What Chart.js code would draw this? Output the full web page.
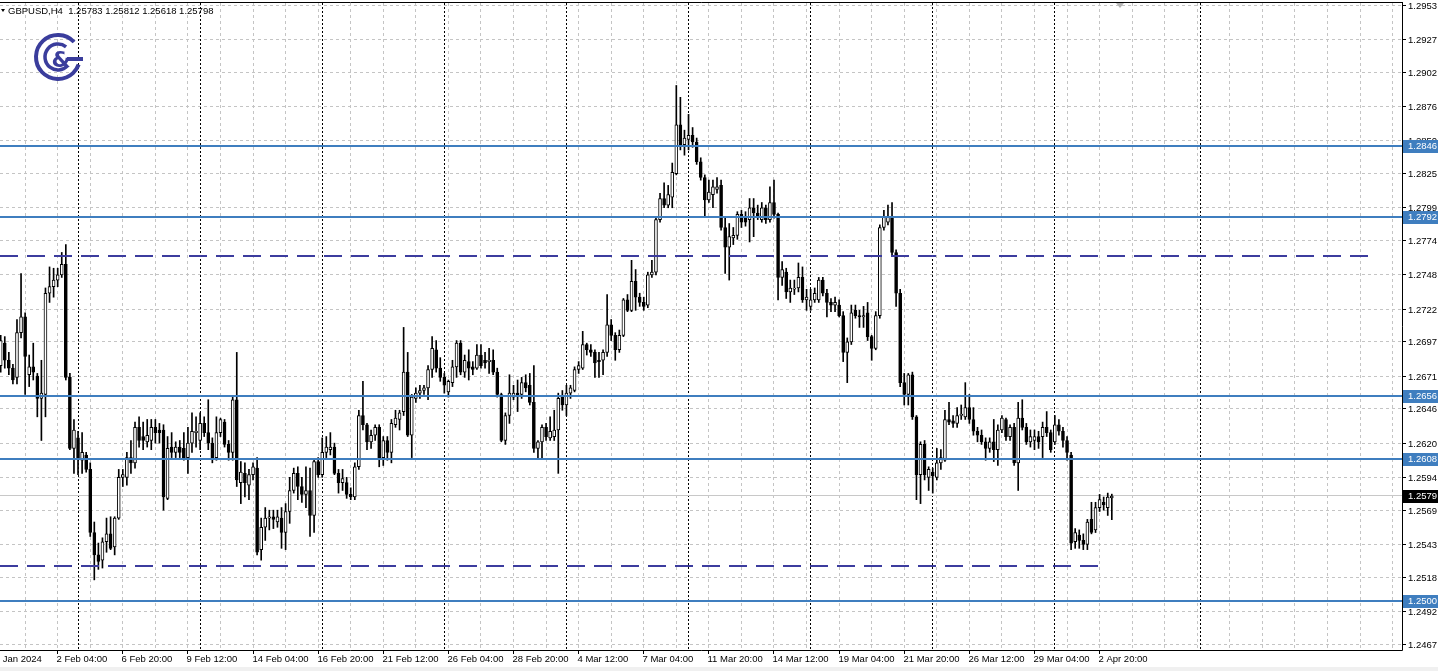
<!DOCTYPE html>
<html>
<head>
<meta charset="utf-8">
<script src="https://cdn.jsdelivr.net/npm/chart.js@4.4.1/dist/chart.umd.min.js"></script>
<style>
html, body { margin: 0; padding: 0; background: #fff; overflow: hidden; }
canvas { display: block; }
</style>
</head>
<body>
<canvas id="price-chart" width="1438" height="671"></canvas>
<script>
var symbol = 'GBPUSD,H4';

// H4 bars, 30 Jan 20:00 .. 3 Apr 08:00
var opens = [
    1.2679, 1.2696, 1.2683, 1.2677, 1.2670, 1.2704, 1.2716, 1.2672, 1.2678, 1.2671,
    1.2654, 1.2657, 1.2734, 1.2739, 1.2744, 1.2748, 1.2756, 1.2670, 1.2616, 1.2624,
    1.2607, 1.2611, 1.2600, 1.2552, 1.2535, 1.2531, 1.2545, 1.2551, 1.2541, 1.2563,
    1.2594, 1.2594, 1.2609, 1.2605, 1.2632, 1.2625, 1.2621, 1.2622, 1.2632, 1.2630,
    1.2630, 1.2578, 1.2617, 1.2613, 1.2617, 1.2616, 1.2609, 1.2620, 1.2628, 1.2622,
    1.2635, 1.2628, 1.2620, 1.2609, 1.2628, 1.2636, 1.2619, 1.2613, 1.2653, 1.2590,
    1.2597, 1.2588, 1.2596, 1.2601, 1.2539, 1.2556, 1.2563, 1.2564, 1.2560, 1.2563,
    1.2552, 1.2568, 1.2584, 1.2597, 1.2587, 1.2581, 1.2584, 1.2565, 1.2606, 1.2596,
    1.2613, 1.2615, 1.2617, 1.2597, 1.2590, 1.2590, 1.2581, 1.2579, 1.2602, 1.2641,
    1.2634, 1.2621, 1.2626, 1.2632, 1.2609, 1.2622, 1.2613, 1.2634, 1.2638, 1.2644,
    1.2674, 1.2626, 1.2654, 1.2658, 1.2660, 1.2662, 1.2676, 1.2691, 1.2677, 1.2670,
    1.2659, 1.2666, 1.2678, 1.2696, 1.2674, 1.2682, 1.2678, 1.2677, 1.2687, 1.2683,
    1.2682, 1.2683, 1.2674, 1.2657, 1.2622, 1.2641, 1.2655, 1.2658, 1.2657, 1.2666,
    1.2664, 1.2651, 1.2616, 1.2621, 1.2632, 1.2624, 1.2625, 1.2630, 1.2655, 1.2649,
    1.2658, 1.2660, 1.2676, 1.2677, 1.2695, 1.2691, 1.2689, 1.2683, 1.2683, 1.2689,
    1.2710, 1.2702, 1.2691, 1.2702, 1.2729, 1.2721, 1.2743, 1.2731, 1.2727, 1.2725,
    1.2748, 1.2750, 1.2790, 1.2806, 1.2801, 1.2807, 1.2825, 1.2862, 1.2847, 1.2851,
    1.2854, 1.2849, 1.2834, 1.2822, 1.2805, 1.2809, 1.2813, 1.2816, 1.2784, 1.2769,
    1.2776, 1.2778, 1.2794, 1.2791, 1.2790, 1.2799, 1.2795, 1.2790, 1.2799, 1.2790,
    1.2803, 1.2794, 1.2746, 1.2750, 1.2735, 1.2737, 1.2738, 1.2746, 1.2729, 1.2724,
    1.2729, 1.2729, 1.2744, 1.2734, 1.2727, 1.2725, 1.2725, 1.2717, 1.2689, 1.2697,
    1.2721, 1.2717, 1.2716, 1.2719, 1.2701, 1.2692, 1.2717, 1.2784, 1.2788, 1.2792,
    1.2765, 1.2734, 1.2666, 1.2657, 1.2672, 1.2640, 1.2596, 1.2619, 1.2594, 1.2598,
    1.2594, 1.2605, 1.2607, 1.2638, 1.2637, 1.2635, 1.2641, 1.2640, 1.2647, 1.2638,
    1.2629, 1.2626, 1.2621, 1.2616, 1.2621, 1.2615, 1.2630, 1.2638, 1.2625, 1.2632,
    1.2605, 1.2639, 1.2632, 1.2621, 1.2622, 1.2625, 1.2625, 1.2632, 1.2628, 1.2621,
    1.2634, 1.2629, 1.2622, 1.2611, 1.2545, 1.2550, 1.2546, 1.2543, 1.2562, 1.2554,
    1.2571, 1.2575, 1.2571, 1.25783
];
var highs = [
    1.2702, 1.2701, 1.2689, 1.2680, 1.2714, 1.2749, 1.2719, 1.2687, 1.2696, 1.2673,
    1.2683, 1.2738, 1.2754, 1.2753, 1.2753, 1.2765, 1.2771, 1.2673, 1.2638, 1.2629,
    1.2628, 1.2613, 1.2605, 1.2560, 1.2544, 1.2548, 1.2563, 1.2564, 1.2564, 1.2600,
    1.2600, 1.2613, 1.2622, 1.2636, 1.2640, 1.2636, 1.2638, 1.2638, 1.2638, 1.2635,
    1.2634, 1.2625, 1.2628, 1.2621, 1.2622, 1.2628, 1.2632, 1.2643, 1.2640, 1.2643,
    1.2640, 1.2653, 1.2624, 1.2640, 1.2639, 1.2638, 1.2622, 1.2655, 1.2689, 1.2606,
    1.2605, 1.2600, 1.2605, 1.2609, 1.2563, 1.2571, 1.2569, 1.2569, 1.2569, 1.2571,
    1.2574, 1.2594, 1.2601, 1.2602, 1.2594, 1.2602, 1.2601, 1.2607, 1.2609, 1.2624,
    1.2625, 1.2628, 1.2620, 1.2600, 1.2600, 1.2594, 1.2586, 1.2605, 1.2645, 1.2667,
    1.2635, 1.2630, 1.2634, 1.2634, 1.2625, 1.2625, 1.2638, 1.2645, 1.2645, 1.2708,
    1.2689, 1.2657, 1.2662, 1.2664, 1.2664, 1.2679, 1.2701, 1.2698, 1.2685, 1.2673,
    1.2668, 1.2683, 1.2698, 1.2698, 1.2687, 1.2691, 1.2682, 1.2695, 1.2695, 1.2689,
    1.2692, 1.2691, 1.2677, 1.2658, 1.2643, 1.2672, 1.2664, 1.2668, 1.2670, 1.2672,
    1.2673, 1.2679, 1.2622, 1.2634, 1.2635, 1.2640, 1.2645, 1.2658, 1.2660, 1.2664,
    1.2664, 1.2678, 1.2682, 1.2705, 1.2696, 1.2695, 1.2691, 1.2689, 1.2691, 1.2733,
    1.2714, 1.2704, 1.2706, 1.2730, 1.2733, 1.2759, 1.2752, 1.2734, 1.2731, 1.2750,
    1.2759, 1.2791, 1.2810, 1.2818, 1.2816, 1.2833, 1.2892, 1.2883, 1.2858, 1.2870,
    1.2860, 1.2852, 1.2837, 1.2824, 1.2820, 1.2820, 1.2822, 1.2820, 1.2792, 1.2787,
    1.2784, 1.2796, 1.2797, 1.2796, 1.2806, 1.2806, 1.2801, 1.2803, 1.2801, 1.2815,
    1.2820, 1.2795, 1.2758, 1.2753, 1.2744, 1.2744, 1.2757, 1.2754, 1.2737, 1.2737,
    1.2738, 1.2746, 1.2746, 1.2737, 1.2730, 1.2731, 1.2729, 1.2720, 1.2700, 1.2725,
    1.2725, 1.2721, 1.2724, 1.2727, 1.2702, 1.2720, 1.2786, 1.2797, 1.2801, 1.2803,
    1.2767, 1.2737, 1.2673, 1.2673, 1.2674, 1.2641, 1.2621, 1.2622, 1.2602, 1.2601,
    1.2616, 1.2615, 1.2645, 1.2651, 1.2641, 1.2647, 1.2649, 1.2666, 1.2657, 1.2647,
    1.2632, 1.2630, 1.2624, 1.2624, 1.2638, 1.2634, 1.2641, 1.2639, 1.2634, 1.2635,
    1.2651, 1.2653, 1.2635, 1.2630, 1.2630, 1.2629, 1.2636, 1.2644, 1.2630, 1.2641,
    1.2638, 1.2632, 1.2625, 1.2613, 1.2555, 1.2554, 1.2551, 1.2562, 1.2575, 1.2575,
    1.2581, 1.2579, 1.2582, 1.25812
];
var lows = [
    1.2674, 1.2677, 1.2672, 1.2665, 1.2665, 1.2700, 1.2657, 1.2663, 1.2668, 1.2640,
    1.2622, 1.2640, 1.2727, 1.2731, 1.2739, 1.2746, 1.2668, 1.2615, 1.2597, 1.2596,
    1.2597, 1.2598, 1.2549, 1.2516, 1.2524, 1.2525, 1.2537, 1.2539, 1.2535, 1.2562,
    1.2587, 1.2588, 1.2597, 1.2601, 1.2617, 1.2615, 1.2617, 1.2615, 1.2620, 1.2620,
    1.2569, 1.2577, 1.2609, 1.2609, 1.2609, 1.2607, 1.2597, 1.2613, 1.2617, 1.2615,
    1.2625, 1.2615, 1.2605, 1.2607, 1.2625, 1.2617, 1.2607, 1.2607, 1.2587, 1.2574,
    1.2579, 1.2577, 1.2592, 1.2535, 1.2531, 1.2546, 1.2554, 1.2555, 1.2556, 1.2540,
    1.2539, 1.2559, 1.2582, 1.2577, 1.2575, 1.2571, 1.2549, 1.2552, 1.2594, 1.2594,
    1.2609, 1.2611, 1.2596, 1.2582, 1.2584, 1.2578, 1.2577, 1.2577, 1.2600, 1.2630,
    1.2615, 1.2616, 1.2622, 1.2602, 1.2603, 1.2607, 1.2605, 1.2632, 1.2630, 1.2641,
    1.2625, 1.2609, 1.2651, 1.2654, 1.2657, 1.2653, 1.2670, 1.2674, 1.2667, 1.2658,
    1.2655, 1.2663, 1.2670, 1.2672, 1.2670, 1.2668, 1.2672, 1.2676, 1.2677, 1.2677,
    1.2673, 1.2672, 1.2655, 1.2621, 1.2619, 1.2635, 1.2653, 1.2644, 1.2654, 1.2659,
    1.2649, 1.2613, 1.2609, 1.2609, 1.2622, 1.2622, 1.2622, 1.2597, 1.2645, 1.2641,
    1.2654, 1.2659, 1.2673, 1.2676, 1.2687, 1.2686, 1.2670, 1.2670, 1.2672, 1.2686,
    1.2698, 1.2683, 1.2689, 1.2701, 1.2720, 1.2720, 1.2721, 1.2724, 1.2721, 1.2723,
    1.2746, 1.2748, 1.2788, 1.2799, 1.2799, 1.2799, 1.2824, 1.2843, 1.2839, 1.2843,
    1.2845, 1.2832, 1.2820, 1.2792, 1.2803, 1.2799, 1.2810, 1.2782, 1.2749, 1.2744,
    1.2771, 1.2775, 1.2784, 1.2785, 1.2773, 1.2777, 1.2790, 1.2788, 1.2787, 1.2788,
    1.2791, 1.2729, 1.2740, 1.2730, 1.2727, 1.2733, 1.2735, 1.2727, 1.2721, 1.2721,
    1.2727, 1.2727, 1.2732, 1.2716, 1.2720, 1.2720, 1.2716, 1.2682, 1.2666, 1.2695,
    1.2715, 1.2708, 1.2708, 1.2698, 1.2683, 1.2691, 1.2715, 1.2782, 1.2786, 1.2763,
    1.2724, 1.2663, 1.2649, 1.2649, 1.2638, 1.2577, 1.2574, 1.2592, 1.2584, 1.2582,
    1.2592, 1.2600, 1.2606, 1.2634, 1.2632, 1.2632, 1.2638, 1.2638, 1.2635, 1.2626,
    1.2621, 1.2619, 1.2607, 1.2613, 1.2606, 1.2603, 1.2628, 1.2622, 1.2622, 1.2603,
    1.2584, 1.2630, 1.2619, 1.2617, 1.2615, 1.2616, 1.2609, 1.2625, 1.2613, 1.2619,
    1.2626, 1.2617, 1.2607, 1.2539, 1.2540, 1.2540, 1.2539, 1.2539, 1.2551, 1.2552,
    1.2568, 1.2569, 1.2565, 1.25618
];
var closes = [
    1.2698, 1.2683, 1.2677, 1.2668, 1.2704, 1.2716, 1.2686, 1.2678, 1.2674, 1.2654,
    1.2658, 1.2734, 1.2739, 1.2744, 1.2748, 1.2756, 1.2670, 1.2616, 1.2630, 1.2609,
    1.2613, 1.2600, 1.2552, 1.2535, 1.2530, 1.2545, 1.2551, 1.2540, 1.2563, 1.2594,
    1.2596, 1.2609, 1.2605, 1.2632, 1.2622, 1.2622, 1.2626, 1.2632, 1.2628, 1.2628,
    1.2579, 1.2616, 1.2613, 1.2617, 1.2613, 1.2609, 1.2620, 1.2629, 1.2629, 1.2635,
    1.2628, 1.2620, 1.2609, 1.2628, 1.2638, 1.2619, 1.2613, 1.2653, 1.2592, 1.2598,
    1.2590, 1.2596, 1.2602, 1.2537, 1.2556, 1.2563, 1.2564, 1.2562, 1.2564, 1.2552,
    1.2568, 1.2584, 1.2597, 1.2587, 1.2581, 1.2584, 1.2565, 1.2606, 1.2596, 1.2613,
    1.2617, 1.2617, 1.2597, 1.2590, 1.2593, 1.2581, 1.2579, 1.2602, 1.2641, 1.2634,
    1.2621, 1.2626, 1.2632, 1.2609, 1.2622, 1.2613, 1.2635, 1.2639, 1.2643, 1.2674,
    1.2626, 1.2655, 1.2658, 1.2660, 1.2662, 1.2676, 1.2692, 1.2677, 1.2670, 1.2664,
    1.2667, 1.2678, 1.2696, 1.2674, 1.2683, 1.2677, 1.2676, 1.2687, 1.2679, 1.2681,
    1.2683, 1.2674, 1.2657, 1.2622, 1.2641, 1.2658, 1.2658, 1.2656, 1.2666, 1.2662,
    1.2651, 1.2616, 1.2621, 1.2632, 1.2625, 1.2629, 1.2630, 1.2654, 1.2649, 1.2658,
    1.2662, 1.2676, 1.2679, 1.2695, 1.2691, 1.2689, 1.2681, 1.2682, 1.2689, 1.2710,
    1.2702, 1.2691, 1.2702, 1.2729, 1.2721, 1.2743, 1.2731, 1.2727, 1.2724, 1.2748,
    1.2750, 1.2790, 1.2806, 1.2801, 1.2809, 1.2826, 1.2862, 1.2847, 1.2852, 1.2854,
    1.2849, 1.2834, 1.2822, 1.2805, 1.2811, 1.2815, 1.2815, 1.2784, 1.2769, 1.2777,
    1.2778, 1.2794, 1.2788, 1.2788, 1.2799, 1.2795, 1.2792, 1.2799, 1.2790, 1.2803,
    1.2794, 1.2746, 1.2752, 1.2735, 1.2738, 1.2738, 1.2746, 1.2729, 1.2731, 1.2729,
    1.2734, 1.2744, 1.2734, 1.2727, 1.2725, 1.2727, 1.2717, 1.2689, 1.2697, 1.2719,
    1.2717, 1.2716, 1.2717, 1.2701, 1.2692, 1.2717, 1.2784, 1.2792, 1.2792, 1.2765,
    1.2734, 1.2666, 1.2657, 1.2672, 1.2640, 1.2596, 1.2619, 1.2596, 1.2600, 1.2595,
    1.2605, 1.2609, 1.2638, 1.2636, 1.2635, 1.2641, 1.2642, 1.2647, 1.2638, 1.2629,
    1.2626, 1.2621, 1.2616, 1.2621, 1.2615, 1.2630, 1.2639, 1.2625, 1.2632, 1.2605,
    1.2639, 1.2632, 1.2621, 1.2625, 1.2625, 1.2621, 1.2632, 1.2628, 1.2615, 1.2634,
    1.2629, 1.2622, 1.2613, 1.2544, 1.2552, 1.2546, 1.2543, 1.2560, 1.2552, 1.2571,
    1.2577, 1.2573, 1.2579, 1.25798
];

var priceTicks = [1.2953, 1.2927, 1.2902, 1.2876, 1.2850, 1.2825, 1.2799, 1.2774, 1.2748, 1.2722,
    1.2697, 1.2671, 1.2646, 1.2620, 1.2594, 1.2569, 1.2543, 1.2518, 1.2492, 1.2467];

var timeLabels = ['31 Jan 2024', '2 Feb 04:00', '6 Feb 20:00', '9 Feb 12:00', '14 Feb 04:00',
    '16 Feb 20:00', '21 Feb 12:00', '26 Feb 04:00', '28 Feb 20:00', '4 Mar 12:00', '7 Mar 04:00',
    '11 Mar 20:00', '14 Mar 12:00', '19 Mar 04:00', '21 Mar 20:00', '26 Mar 12:00', '29 Mar 04:00',
    '2 Apr 20:00'];
var timeLabelBars = [-2.4, 14, 30, 46, 62, 78, 94, 110, 126, 142, 158, 174, 190, 206, 222, 238, 254, 270];

var weekBars = [19, 49, 79, 109, 139, 169, 199, 229, 259, 294.7];

var levels = [1.2846, 1.2792, 1.2656, 1.2608, 1.2500];
var rangeLevels = [1.27624, 1.25266];
var rangeEnds = [336.4, 270.8];

var lastPrice = closes[closes.length - 1];

function xPix(chart, v) { return chart.scales.x.getPixelForValue(v); }
function yPix(chart, v) { return chart.scales.y.getPixelForValue(v); }
function crisp(v) { return Math.floor(v) + 0.5; }
// the terminal cuts the price to 4 digits on its scale
function cut4(v) { return (Math.floor(v * 10000 + 1e-6) / 10000).toFixed(4); }

function axisBox(ctx, y, fill, text) {
    ctx.fillStyle = fill;
    ctx.fillRect(1403, Math.round(y) - 6, 35, 13);
    ctx.fillStyle = '#fff';
    ctx.fillText(text, 1408, Math.round(y) + 0.5);
}

var mtStyle = {
    id: 'mtStyle',
    beforeDatasetsDraw: function (chart) {
        var ctx = chart.ctx, a = chart.chartArea;
        ctx.save();
        ctx.lineWidth = 1;

        // grid
        ctx.strokeStyle = '#c4c4c4';
        ctx.setLineDash([3, 3]);
        ctx.beginPath();
        priceTicks.forEach(function (v) {
            var y = crisp(yPix(chart, v));
            ctx.moveTo(a.left, y);
            ctx.lineTo(a.right, y);
        });
        for (var b = 6; xPix(chart, b) < a.right; b += 8) {
            var x = crisp(xPix(chart, b));
            ctx.moveTo(x, a.top);
            ctx.lineTo(x, a.bottom);
        }
        ctx.stroke();

        // week separators
        ctx.strokeStyle = '#000';
        ctx.setLineDash([2, 2]);
        ctx.beginPath();
        weekBars.forEach(function (b) {
            var x = crisp(xPix(chart, b));
            ctx.moveTo(x, a.top);
            ctx.lineTo(x, a.bottom);
        });
        ctx.stroke();

        // bid line
        ctx.setLineDash([]);
        ctx.strokeStyle = '#c8c8c8';
        ctx.beginPath();
        var yb = crisp(yPix(chart, lastPrice));
        ctx.moveTo(a.left, yb);
        ctx.lineTo(a.right, yb);
        ctx.stroke();
        ctx.restore();
    },
    afterDatasetsDraw: function (chart) {
        var ctx = chart.ctx, a = chart.chartArea;
        ctx.save();
        ctx.lineWidth = 2;
        ctx.strokeStyle = '#3f7ebf';
        levels.forEach(function (v) {
            var y = Math.round(yPix(chart, v));
            ctx.beginPath();
            ctx.moveTo(a.left, y);
            ctx.lineTo(a.right, y);
            ctx.stroke();
        });
        ctx.strokeStyle = '#3c3c9e';
        ctx.setLineDash([18, 9]);
        rangeLevels.forEach(function (v, k) {
            var y = Math.round(yPix(chart, v));
            ctx.beginPath();
            ctx.moveTo(a.left, y);
            ctx.lineTo(xPix(chart, rangeEnds[k]), y);
            ctx.stroke();
        });
        ctx.restore();
    },
    afterDraw: function (chart) {
        var ctx = chart.ctx, a = chart.chartArea;
        ctx.save();
        ctx.font = '9.5px "Liberation Sans", Arial, sans-serif';
        ctx.textBaseline = 'middle';
        ctx.textAlign = 'left';

        // frame
        ctx.strokeStyle = '#000';
        ctx.lineWidth = 1;
        ctx.beginPath();
        ctx.moveTo(a.left, a.top - 0.5);
        ctx.lineTo(a.right + 0.5, a.top - 0.5);
        ctx.moveTo(a.right + 0.5, a.top - 1);
        ctx.lineTo(a.right + 0.5, a.bottom + 0.5);
        ctx.moveTo(a.left, a.bottom + 0.5);
        ctx.lineTo(a.right + 0.5, a.bottom + 0.5);
        ctx.stroke();

        // price scale
        ctx.fillStyle = '#000';
        ctx.beginPath();
        priceTicks.forEach(function (v) {
            var y = crisp(yPix(chart, v));
            ctx.moveTo(a.right, y);
            ctx.lineTo(a.right + 4, y);
            ctx.fillText(v.toFixed(4), 1408, y + 1);
        });
        ctx.stroke();
        levels.forEach(function (v) {
            axisBox(ctx, yPix(chart, v), '#3f7ebf', v.toFixed(4));
        });
        axisBox(ctx, yPix(chart, lastPrice), '#000', cut4(lastPrice));

        // time scale
        ctx.fillStyle = '#000';
        ctx.beginPath();
        timeLabels.forEach(function (t, k) {
            var x = crisp(xPix(chart, timeLabelBars[k]));
            ctx.moveTo(x, a.bottom);
            ctx.lineTo(x, a.bottom + 4);
            ctx.fillText(t, x - 1, a.bottom + 9);
        });
        ctx.stroke();
        ctx.fillStyle = '#f0f0f0';
        ctx.fillRect(0, 667, chart.width, 4);

        // header
        ctx.fillStyle = '#000';
        ctx.beginPath();
        ctx.moveTo(1, 9);
        ctx.lineTo(5, 9);
        ctx.lineTo(3, 12);
        ctx.fill();
        ctx.fillText(symbol + '  ' + opens[opens.length - 1].toFixed(5) + ' ' +
            highs[highs.length - 1].toFixed(5) + ' ' + lows[lows.length - 1].toFixed(5) + ' ' +
            lastPrice.toFixed(5), 8, 11);

        // chart shift marker
        ctx.fillStyle = '#b4b4b4';
        ctx.beginPath();
        ctx.moveTo(1116, 3);
        ctx.lineTo(1124, 3);
        ctx.lineTo(1120, 8);
        ctx.fill();

        // logo
        ctx.strokeStyle = '#3a3d9c';
        ctx.fillStyle = '#3a3d9c';
        ctx.lineWidth = 4;
        ctx.beginPath();
        ctx.arc(58, 57, 22, -0.75, 0.35, true);
        ctx.stroke();
        ctx.beginPath();
        ctx.moveTo(67, 59);
        ctx.lineTo(83, 59);
        ctx.stroke();
        ctx.lineWidth = 3.5;
        ctx.beginPath();
        ctx.arc(58, 57, 13, -0.9, 0.75, true);
        ctx.stroke();
        ctx.font = 'bold 22px "DejaVu Sans", sans-serif';
        ctx.textAlign = 'center';
        ctx.fillText('&', 61, 61);
        ctx.restore();
    }
};

var bodies = opens.map(function (o, i) { return { x: i, y: [o, closes[i]] }; });
var wicks = lows.map(function (l, i) { return { x: i, y: [l, highs[i]] }; });
var bodyColors = opens.map(function (o, i) { return closes[i] >= o ? '#ffffff' : '#000000'; });

var ctx = document.getElementById('price-chart');
var chart = new Chart(ctx, {
    type: 'bar',
    data: {
        datasets: [{
            label: 'body',
            data: bodies,
            backgroundColor: bodyColors,
            borderColor: '#000',
            borderWidth: 1,
            borderSkipped: false,
            barThickness: 3,
            minBarLength: 1,
            grouped: false,
            order: 1
        }, {
            label: 'wick',
            data: wicks,
            backgroundColor: '#000',
            borderWidth: 0,
            barThickness: 1,
            grouped: false,
            order: 2
        }]
    },
    options: {
        responsive: false,
        devicePixelRatio: 1,
        animation: false,
        events: [],
        layout: { padding: { left: 0, top: 3, right: 36, bottom: 21 } },
        scales: {
            x: { type: 'linear', offset: false, min: -0.172, max: 344.3, display: false },
            y: { type: 'linear', min: 1.246267, max: 1.295472, display: false }
        },
        plugins: { legend: { display: false }, tooltip: { enabled: false } }
    },
    plugins: [mtStyle]
});
</script>
</body>
</html>
